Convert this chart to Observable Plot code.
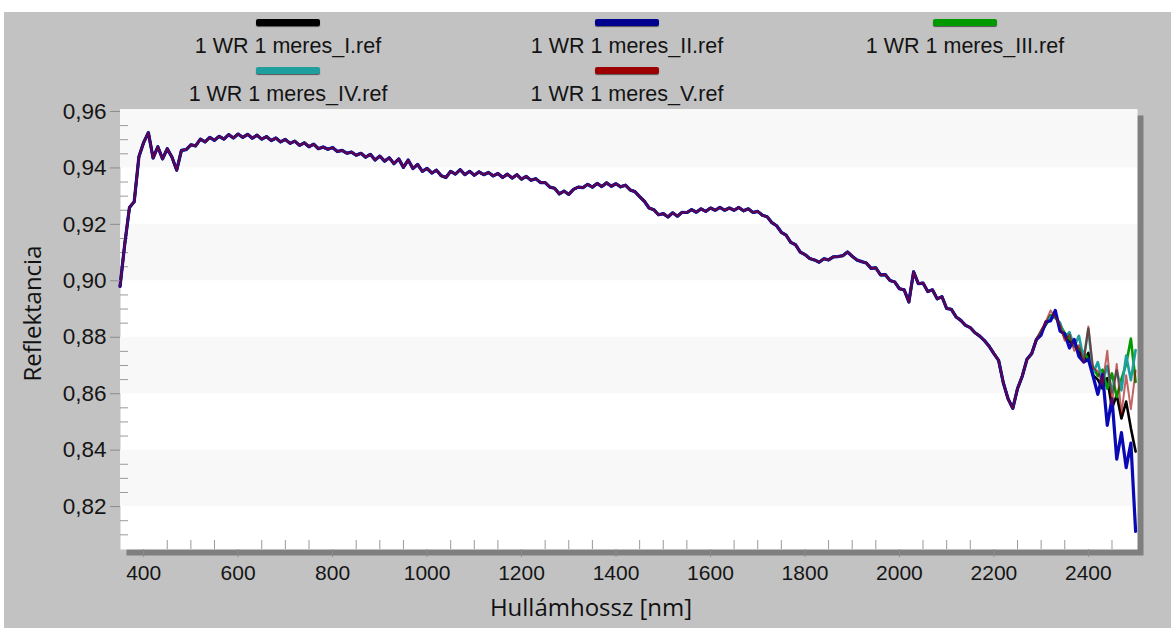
<!DOCTYPE html>
<html><head><meta charset="utf-8">
<script src="https://cdn.jsdelivr.net/npm/d3@7"></script>
<script src="https://cdn.jsdelivr.net/npm/@observablehq/plot@0.6"></script>
<style>
html,body{margin:0;padding:0;background:#fff;}
#panel{position:absolute;left:4px;top:12px;width:1167px;height:616px;background:#c2c2c2;overflow:hidden;}
.item{position:absolute;width:260px;text-align:center;font-family:"Liberation Sans",Arial,sans-serif;font-size:21.5px;color:#141414;}
.sw{width:64px;height:7px;margin:0 auto;border-radius:2px;box-shadow:0 1px 1px #555;}
.lab{margin-top:8px;line-height:24px;white-space:nowrap;}
#chart{position:absolute;left:0;top:88px;}
</style></head>
<body>
<div id="panel"><div id="legend"></div><div id="chart"></div></div>
<script>
// ---- data ----
const seriesNames = ["1 WR 1 meres_I.ref","1 WR 1 meres_II.ref","1 WR 1 meres_III.ref","1 WR 1 meres_IV.ref","1 WR 1 meres_V.ref"];
const seriesColors = ["#000000","#00008e","#009a00","#1f9e9e","#9c0000"];
// wavelengths 350..2500 nm, 10 nm step
const wavelengths = d3.range(350, 2501, 10);
// shared part of the spectra, 350..2290 nm
const commonValues = [
0.898,0.913,0.926,0.928,0.944,0.949,0.9525,0.9435,0.9475,0.9432,
0.9468,0.9438,0.9392,0.9462,0.9465,0.9482,0.9478,0.9502,0.9492,0.9508,
0.9498,0.9512,0.9502,0.9518,0.9506,0.952,0.9508,0.9519,0.9505,0.9516,
0.9502,0.9511,0.9497,0.9506,0.9492,0.9501,0.9487,0.9495,0.948,0.9489,
0.9475,0.9484,0.9468,0.9474,0.9466,0.9472,0.9458,0.9462,0.9452,0.9456,
0.9445,0.9452,0.9438,0.9448,0.9428,0.9442,0.9424,0.9436,0.9415,0.9432,
0.9402,0.9428,0.9398,0.9412,0.9388,0.9398,0.9382,0.9392,0.9372,0.9366,
0.9388,0.9378,0.9394,0.9376,0.9388,0.9374,0.9386,0.9376,0.9384,0.9372,
0.938,0.9366,0.9378,0.9364,0.9376,0.936,0.937,0.9356,0.9362,0.9348,
0.9348,0.9332,0.9328,0.9308,0.9318,0.9306,0.9324,0.9332,0.933,0.9342,
0.9332,0.9345,0.9334,0.9347,0.9335,0.9344,0.9333,0.9339,0.9322,0.9316,
0.9298,0.9282,0.9258,0.9252,0.9234,0.9238,0.9226,0.9241,0.9229,0.9243,
0.9242,0.9252,0.9243,0.9255,0.9246,0.9258,0.925,0.926,0.925,0.9258,
0.925,0.926,0.9248,0.9255,0.9242,0.9246,0.9232,0.9227,0.9206,0.9195,
0.9172,0.9162,0.9136,0.9128,0.9102,0.9093,0.9079,0.9074,0.9066,0.9078,
0.9074,0.9085,0.9086,0.9089,0.9102,0.9087,0.9074,0.9068,0.9063,0.9044,
0.9046,0.9021,0.9022,0.9001,0.8996,0.8972,0.8968,0.8925,0.9032,0.899,
0.8992,0.8962,0.8968,0.8936,0.8944,0.8902,0.8899,0.8872,0.886,0.8842,
0.8834,0.8816,0.8804,0.8788,0.8768,0.8742,0.8718,0.8638,0.8582,0.8548,
0.8618,0.8662,0.8722,0.8742,0.8792
];
// diverging tails, 2300..2500 nm
const tailI   = [0.8818,0.8845,0.8868,0.8880,0.8835,0.8800,0.8785,0.8770,0.8755,0.8715,0.8745,0.8665,0.8650,0.8618,0.8655,0.8548,0.8595,0.8512,0.8572,0.8478,0.8395];
const tailII  = [0.8808,0.8855,0.8858,0.8895,0.8822,0.8812,0.8762,0.8792,0.8732,0.8712,0.8722,0.8662,0.8598,0.8668,0.8488,0.8582,0.8368,0.8462,0.8338,0.8425,0.8112];
const tailIII = [0.8822,0.8848,0.8878,0.8872,0.8845,0.8815,0.8795,0.8780,0.8758,0.8748,0.8722,0.8695,0.8662,0.8685,0.8618,0.8672,0.8588,0.8652,0.8705,0.8795,0.8642];
const tailIV  = [0.8820,0.8850,0.8872,0.8868,0.8852,0.8798,0.8818,0.8768,0.8805,0.8722,0.8830,0.8672,0.8712,0.8642,0.8698,0.8605,0.8682,0.8612,0.8735,0.8648,0.8755];
const tailV   = [0.8825,0.8855,0.8895,0.8870,0.8845,0.8788,0.8810,0.8752,0.8772,0.8712,0.8838,0.8690,0.8680,0.8632,0.8752,0.8562,0.8705,0.8528,0.8665,0.8545,0.8682];
const tails = [tailI, tailII, tailIII, tailIV, tailV];
const yTicks = [0.82,0.84,0.86,0.88,0.90,0.92,0.94,0.96];
const xTicks = [400,600,800,1000,1200,1400,1600,1800,2000,2200,2400];
const xMinor = [450,500,550,650,700,750,850,900,950,1050,1100,1150,1250,1300,1350,1450,1500,1550,1650,1700,1750,1850,1900,1950,2050,2100,2150,2250,2300,2350,2450];
const yMinor = [0.81,0.815,0.825,0.83,0.835,0.845,0.85,0.855,0.865,0.87,0.875,0.885,0.89,0.895,0.905,0.91,0.915,0.925,0.93,0.935,0.945,0.95,0.955];
const bandLo = [0.94,0.90,0.86,0.82];
const bandHi = [0.9607,0.92,0.88,0.84];
const xTitle = "Hullámhossz [nm]";
const yTitle = "Reflektancia";

// ---- legend ----
const legend = document.getElementById("legend");
const colCenters = [284, 623, 961];
seriesNames.forEach((name, i) => {
  const d = document.createElement("div");
  d.className = "item";
  d.style.left = (colCenters[i % 3] - 130) + "px";
  d.style.top = (i < 3 ? 7 : 55) + "px";
  d.innerHTML = `<div class="sw" style="background:${seriesColors[i]}"></div><div class="lab"></div>`;
  d.querySelector(".lab").textContent = name;
  legend.appendChild(d);
});

// ---- chart ----
const drawOrder = [0, 2, 3, 1, 4];
const lineMarks = drawOrder.map(si => {
  const vals = commonValues.concat(tails[si]);
  const rows = wavelengths.map((w, j) => ({w, v: vals[j]}));
  const blue = si === 1, red = si === 4;
  return Plot.line(rows, {x: "w", y: "v", stroke: blue ? "#0a0ab4" : seriesColors[si],
    strokeWidth: blue ? 3.2 : (red ? 2 : 2.6),
    strokeOpacity: red ? 0.6 : 1, strokeLinejoin: "round"});
});

const fontTick = "'Liberation Sans', Arial, sans-serif";
const fontTitle = "'Open Sans', 'Noto Sans', sans-serif";
const chart = Plot.plot({
  width: 1167, height: 528,
  marginLeft: 116, marginRight: 34, marginTop: 9, marginBottom: 79,
  style: {background: "transparent", overflow: "visible"},
  x: {domain: [351, 2504], label: null},
  y: {domain: [0.8048, 0.9607], label: null},
  marks: [
    Plot.frame({fill: "#7f7f7f", dx: 6, dy: 6}),
    Plot.frame({fill: "#ffffff"}),
    Plot.rect(d3.range(bandLo.length), {y1: i => bandLo[i], y2: i => bandHi[i], fill: "#f8f8f8"}),
    Plot.ruleX(xMinor, {insetTop: 431, stroke: "#9a9a9a"}),
    Plot.ruleY(yMinor, {insetRight: 1009, stroke: "#9a9a9a"}),
    ...lineMarks,
    Plot.axisY({ticks: yTicks, tickFormat: d => d.toFixed(2).replace(".", ","), tickSize: 10, tickPadding: 4,
      fontSize: 22.5, fontFamily: fontTick, stroke: "#8c8c8c", fill: "#151515", label: null}),
    Plot.axisX({ticks: xTicks, tickFormat: d => String(d), tickSize: 8, tickPadding: 8,
      fontSize: 21, fontFamily: fontTick, stroke: "#8c8c8c", fill: "#151515", label: null}),
    Plot.text([yTitle], {frameAnchor: "left", dx: -87, dy: 52, rotate: -90, fontSize: 24,
      fontFamily: fontTitle, fill: "#111"}),
    Plot.text([xTitle], {frameAnchor: "bottom", dx: -38, dy: 66, fontSize: 24,
      fontFamily: fontTitle, fill: "#111"})
  ]
});
document.getElementById("chart").appendChild(chart);
</script>
</body></html>
